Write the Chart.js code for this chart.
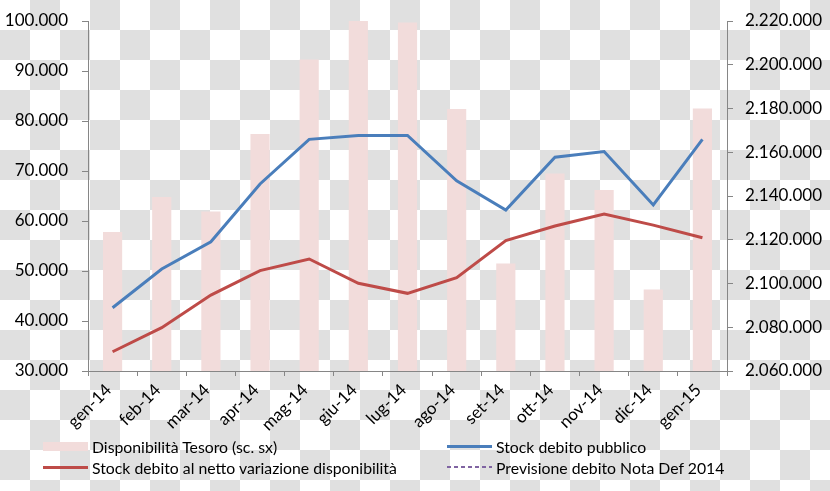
<!DOCTYPE html>
<html>
<head>
<meta charset="utf-8">
<script src="https://cdn.jsdelivr.net/npm/chart.js@4/dist/chart.umd.min.js"></script>
<style>
  html, body { margin: 0; padding: 0; }
  #wrap {
    position: relative; width: 830px; height: 491px;
    background: repeating-conic-gradient(#e0e0e0 0 25%, #fff 0 50%) 0 0 / 60px 60px;
    font-family: Lato, sans-serif;
  }
  #chart { position: absolute; left: 0; top: 0; }
  .leg { position: absolute; height: 20px; display: flex; align-items: center; font-size: 15.8px; color: #000; white-space: nowrap; }
  .sw { width: 45px; margin-right: 4px; }
</style>
</head>
<body>
<div id="wrap">
  <canvas id="chart" width="830" height="491"></canvas>
</div>
<script>
// categorie e serie
var mesi = ['gen-14', 'feb-14', 'mar-14', 'apr-14', 'mag-14', 'giu-14', 'lug-14',
    'ago-14', 'set-14', 'ott-14', 'nov-14', 'dic-14', 'gen-15'];
var disponibilita = [57800, 64800, 61900, 77400, 92300, 100000, 99700, 82400, 51500, 69500, 66200, 46300, 82500];
var debitoPubblico = [2088900, 2106600, 2119100, 2145500, 2165900, 2167700, 2167700,
    2146900, 2133600, 2157700, 2160300, 2135900, 2165900];
var debitoNetto = [2068800, 2079800, 2094700, 2105900, 2111200, 2100100, 2095500,
    2102700, 2119600, 2126300, 2131800, 2126700, 2120900];
var previsione = [null, null, null, null, null, null, null, null, null, null, null, null, null];

var axisGray = '#868686';

function punti(v) {
    return v.toString().replace(/\B(?=(\d{3})+(?!\d))/g, '.');
}

var ctx = document.getElementById('chart').getContext('2d');
var myChart = new Chart(ctx, {
    type: 'bar',
    data: {
        labels: mesi,
        datasets: [{
            type: 'bar',
            label: 'Disponibilità Tesoro (sc. sx)',
            data: disponibilita,
            yAxisID: 'y',
            backgroundColor: '#f2dcdb',
            categoryPercentage: 1,
            barPercentage: 0.39,
            order: 2
        }, {
            type: 'line',
            label: 'Stock debito pubblico',
            data: debitoPubblico,
            yAxisID: 'y1',
            borderColor: '#4a7ebb',
            borderWidth: 3,
            pointRadius: 0,
            tension: 0,
            order: 1
        }, {
            type: 'line',
            label: 'Stock debito al netto variazione disponibilità',
            data: debitoNetto,
            yAxisID: 'y1',
            borderColor: '#be4b48',
            borderWidth: 3,
            pointRadius: 0,
            tension: 0,
            order: 1
        }, {
            type: 'line',
            label: 'Previsione debito Nota Def 2014',
            data: previsione,
            yAxisID: 'y1',
            borderColor: '#8064a2',
            borderWidth: 1.5,
            borderDash: [4, 3],
            pointRadius: 0,
            order: 0
        }]
    },
    options: {
        responsive: false,
        animation: false,
        layout: { padding: { top: 21, left: 0, right: 0, bottom: 0 } },
        plugins: {
            legend: { display: false },
            tooltip: { enabled: false }
        },
        scales: {
            x: {
                grid: { drawOnChartArea: false, drawTicks: true, tickLength: 5, color: axisGray, offset: true },
                border: { color: axisGray },
                ticks: { minRotation: 45, maxRotation: 45, padding: 4, labelOffset: -4, color: '#000',
                    font: { family: 'Lato', size: 17 } },
                afterFit: function (s) { s.height = 120; }
            },
            y: {
                position: 'left',
                min: 30000,
                max: 100000,
                grid: { drawOnChartArea: false, drawTicks: true, tickLength: 6, color: axisGray },
                border: { color: axisGray },
                ticks: { stepSize: 10000, padding: 14, color: '#000', font: { family: 'Lato', size: 17 },
                    callback: function (v) { return punti(v); } },
                afterFit: function (s) { s.width = 88; s.paddingTop = 0; s.paddingBottom = 0; }
            },
            y1: {
                position: 'right',
                min: 2060000,
                max: 2220000,
                grid: { drawOnChartArea: false, drawTicks: true, tickLength: 6, color: axisGray },
                border: { color: axisGray },
                ticks: { stepSize: 20000, padding: 12, color: '#000', font: { family: 'Lato', size: 17 },
                    callback: function (v) { return punti(v); } },
                afterFit: function (s) { s.width = 103; s.paddingTop = 0; s.paddingBottom = 0; }
            }
        }
    }
});

// legenda a due colonne, come nell'originale
var wrap = document.getElementById('wrap');
var posti = [[43, 436], [447, 436], [43, 457], [447, 457]];
var ordine = [0, 1, 2, 3];
ordine.forEach(function (idx, i) {
    var ds = myChart.data.datasets[idx];
    var item = document.createElement('div');
    item.className = 'leg';
    item.style.left = posti[i][0] + 'px';
    item.style.top = posti[i][1] + 'px';
    var sw = document.createElement('div');
    sw.className = 'sw';
    if (ds.type === 'bar') {
        sw.style.height = '9px';
        sw.style.background = ds.backgroundColor;
    } else if (ds.borderDash) {
        sw.style.height = '2px';
        sw.style.background = 'repeating-linear-gradient(to right, ' + ds.borderColor + ' 0 4px, transparent 4px 7px)';
    } else {
        sw.style.height = '3px';
        sw.style.background = ds.borderColor;
    }
    item.appendChild(sw);
    item.appendChild(document.createTextNode(ds.label));
    wrap.appendChild(item);
});
</script>
</body>
</html>
